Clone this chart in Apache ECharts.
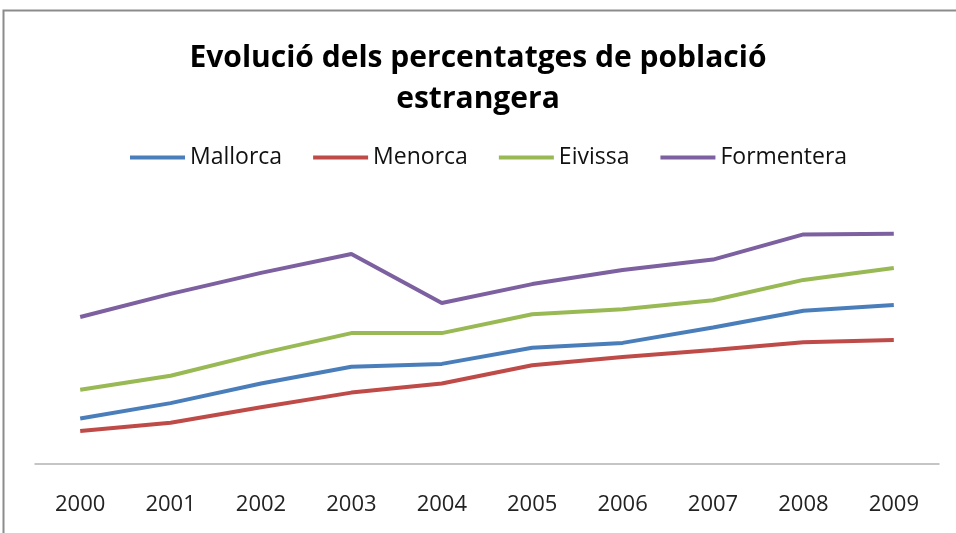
<!DOCTYPE html>
<html>
<head>
<meta charset="utf-8">
<script src="https://cdn.jsdelivr.net/npm/echarts@6/dist/echarts.min.js"></script>
<style>
  html, body { margin: 0; padding: 0; background: #fff; }
  #chart { width: 956px; height: 533px; }
</style>
</head>
<body>
<div id="chart"></div>
<script>
// anys
const years = ['2000', '2001', '2002', '2003', '2004', '2005', '2006', '2007', '2008', '2009']

// % població estrangera (llegit del gràfic)
const mallorca = [6.5, 8.7, 11.5, 13.9, 14.3, 16.6, 17.3, 19.5, 21.9, 22.7]
const menorca = [4.7, 5.9, 8.1, 10.2, 11.5, 14.1, 15.3, 16.3, 17.4, 17.7]
const eivissa = [10.6, 12.6, 15.8, 18.7, 18.7, 21.4, 22.1, 23.4, 26.3, 28.0]
const formentera = [21.0, 24.3, 27.3, 30.0, 23.0, 25.7, 27.7, 29.2, 32.8, 32.9]

const seriesNames = ['Mallorca', 'Menorca', 'Eivissa', 'Formentera']
const seriesColors = ['#4a7ebb', '#be4b48', '#98b954', '#7d60a0']
const seriesData = [mallorca, menorca, eivissa, formentera]

const chart = echarts.init(document.getElementById('chart'))

chart.setOption({
  animation: false,
  title: {
    text: 'Evolució dels percentatges de població\nestrangera',
    left: 'center',
    top: 33,
    textStyle: {
      fontFamily: 'Open Sans',
      fontWeight: 'bold',
      fontSize: 30,
      lineHeight: 41,
      color: '#000'
    }
  },
  legend: {
    left: 125,
    top: 141,
    itemWidth: 55,
    itemHeight: 4,
    itemGap: 31,
    icon: 'rect',
    textStyle: { fontFamily: 'Open Sans', fontSize: 23, color: '#111' },
    data: seriesNames
  },
  graphic: [
    {
      type: 'rect',
      shape: { x: 3.5, y: 10.5, width: 1000, height: 600 },
      style: { fill: 'none', stroke: '#8c8c8c', lineWidth: 2 },
      silent: true
    }
  ],
  grid: { left: 35, right: 17, top: 184, bottom: 69 },
  xAxis: {
    type: 'category',
    data: years,
    boundaryGap: true,
    axisLine: { lineStyle: { color: '#b3b3b3', width: 1.5 } },
    axisTick: { show: false },
    axisLabel: {
      margin: 30,
      fontFamily: 'Open Sans',
      fontSize: 22,
      color: '#222'
    }
  },
  yAxis: {
    type: 'value',
    min: 0,
    max: 40,
    interval: 10,
    show: false,
    splitLine: { show: false }
  },
  series: seriesNames.map((name, i) => ({
    name,
    type: 'line',
    data: seriesData[i],
    symbol: 'none',
    color: seriesColors[i],
    lineStyle: { width: 4, color: seriesColors[i] }
  }))
})
</script>
</body>
</html>
